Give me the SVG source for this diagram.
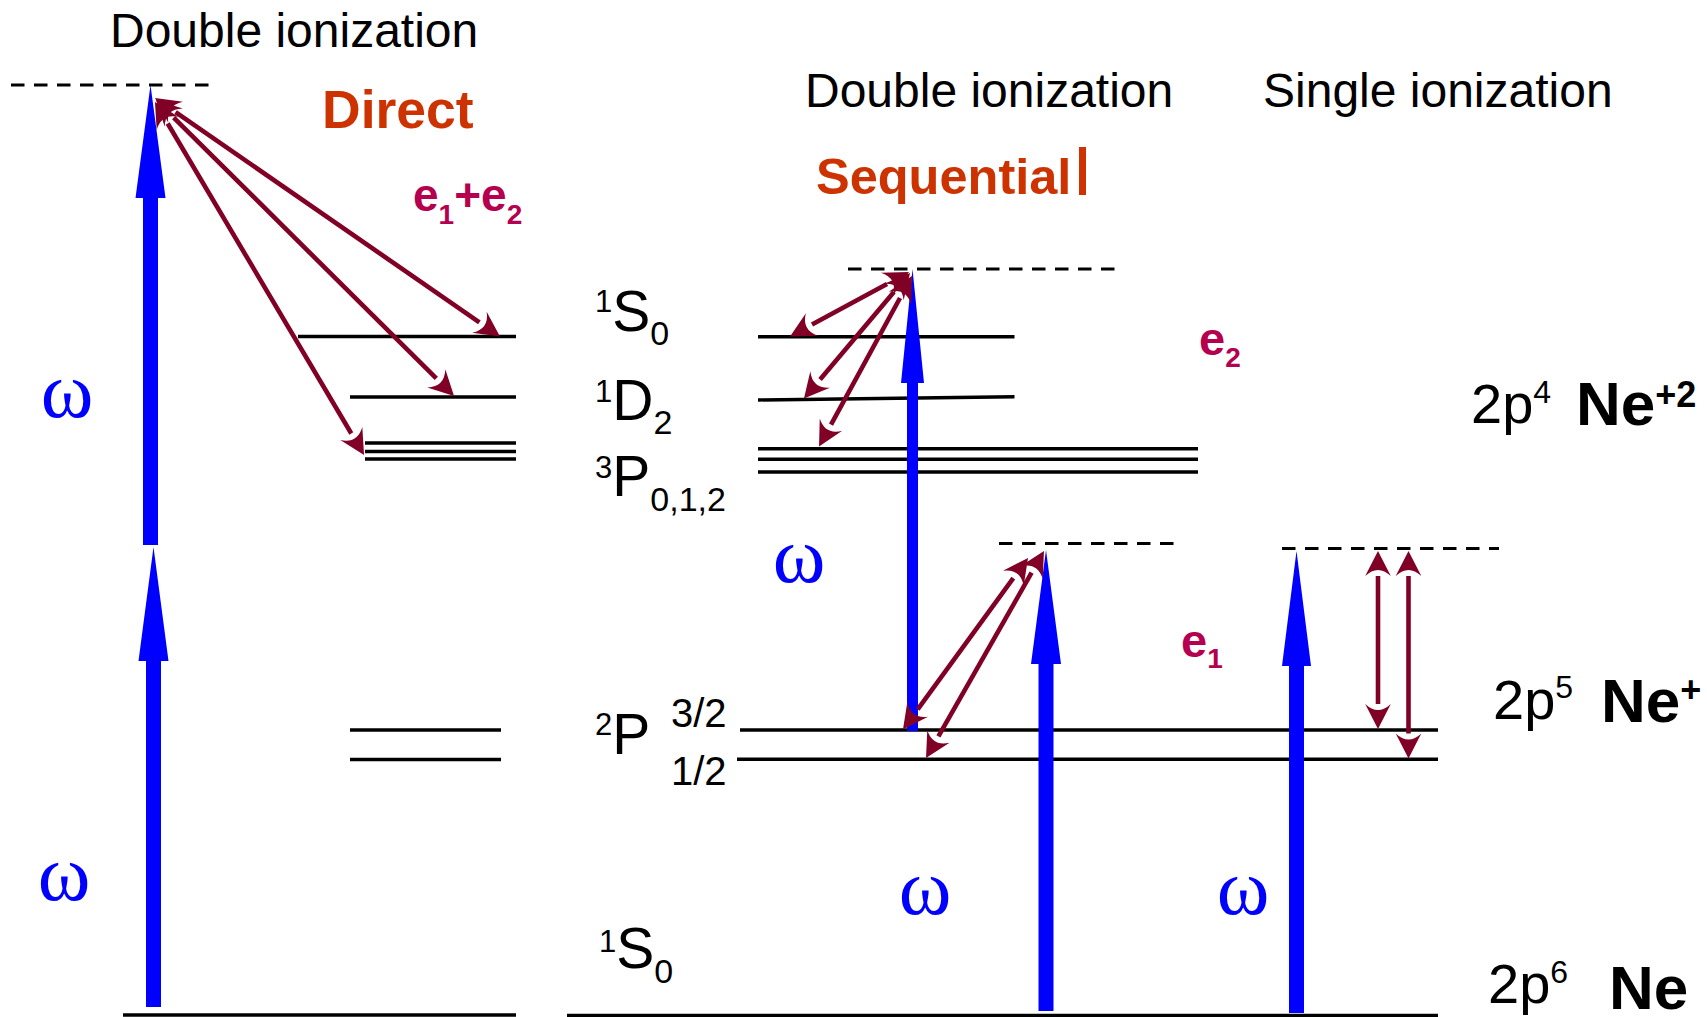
<svg xmlns="http://www.w3.org/2000/svg" width="1707" height="1017" viewBox="0 0 1707 1017">
<style>
.t{font-family:"Liberation Sans",Arial,sans-serif;fill:#000}
.b{font-weight:bold}
.hd{font-size:48px}
.org{fill:#cc3300;font-weight:bold}
.mag{fill:#b4004e;font-weight:bold}
.om{font-family:"Liberation Serif","Times New Roman",serif;fill:#0000ff;font-size:80px;text-anchor:middle}
.lv{stroke:#000;stroke-width:3.4;fill:none}
.dl{stroke:#000;stroke-width:3;fill:none;stroke-dasharray:13.5 9.5}
.blue{fill:#0000ff}
.ra{stroke:#800026;stroke-width:4.6;fill:none;marker-start:url(#ah);marker-end:url(#ah)}
.lab{font-family:"Liberation Sans",Arial,sans-serif;font-size:57px}
.sp{font-size:31px}
.sb{font-size:34px}
</style>
<defs>
<marker id="ah" markerUnits="userSpaceOnUse" orient="auto-start-reverse" refX="0" refY="0" markerWidth="30" markerHeight="30" overflow="visible">
<path d="M25,0 L0,-12.8 Q12,0 0,12.8 Z" fill="#800026"/>
</marker>
</defs>
<rect width="1707" height="1017" fill="#fff"/>

<g id="titles">
<text class="t hd" x="110" y="47">Double ionization</text>
<text class="t org" x="322" y="128" font-size="53.5">Direct</text>
<text class="t mag" x="413" y="211" font-size="46">e<tspan font-size="28" dy="13">1</tspan><tspan dy="-13">+e</tspan><tspan font-size="28" dy="13">2</tspan></text>
<text class="t hd" x="805" y="107">Double ionization</text>
<text class="t hd" x="1263" y="107">Single ionization</text>
<text class="t org" x="816" y="194" font-size="50.5">Sequential</text>
<rect x="1079" y="147" width="7" height="48" fill="#cc3300"/>
<text class="t mag" x="1199" y="355" font-size="47">e<tspan font-size="28" dy="12">2</tspan></text>
<text class="t mag" x="1181" y="657" font-size="47">e<tspan font-size="28" dy="11">1</tspan></text>
</g>

<g id="omegas">
<text class="om" x="67" y="417">ω</text>
<text class="om" x="64" y="900">ω</text>
<text class="om" x="799" y="582">ω</text>
<text class="om" x="925" y="914">ω</text>
<text class="om" x="1243" y="914">ω</text>
</g>

<g id="levels-direct">
<line class="dl" x1="11" y1="85" x2="212" y2="85"/>
<line class="lv" x1="298" y1="336.5" x2="516" y2="336.5"/>
<line class="lv" x1="350" y1="397" x2="516" y2="397"/>
<line class="lv" x1="365" y1="443" x2="516" y2="443"/>
<line class="lv" x1="365" y1="451.5" x2="516" y2="451.5"/>
<line class="lv" x1="365" y1="459" x2="516" y2="459"/>
<line class="lv" x1="350" y1="730" x2="501" y2="730"/>
<line class="lv" x1="350" y1="759.5" x2="501" y2="759.5"/>
<line class="lv" x1="123" y1="1015" x2="516" y2="1015" stroke-width="3"/>
</g>

<g id="levels-sequential">
<line class="dl" x1="848" y1="269" x2="1118" y2="269"/>
<line class="lv" x1="758" y1="336.7" x2="1014.5" y2="336.7"/>
<line class="lv" x1="758" y1="400" x2="1014.5" y2="396.7"/>
<line class="lv" x1="758" y1="448.7" x2="1198" y2="448.7"/>
<line class="lv" x1="758" y1="459.3" x2="1198" y2="459.3"/>
<line class="lv" x1="758" y1="472" x2="1198" y2="472"/>
<line class="dl" x1="999" y1="543.5" x2="1176" y2="543.5"/>
<line class="dl" x1="1282" y1="548.5" x2="1499" y2="548.5"/>
<line class="lv" x1="740" y1="730" x2="1438" y2="730"/>
<line class="lv" x1="737" y1="759.3" x2="1438" y2="759.3"/>
<line class="lv" x1="567" y1="1015.5" x2="1438" y2="1015.5" stroke-width="3"/>
</g>

<g id="state-labels">
<text class="lab" x="595" y="331"><tspan class="sp" dy="-19">1</tspan><tspan dy="19">S</tspan><tspan class="sb" dy="13.5">0</tspan></text>
<text class="lab" x="595" y="420"><tspan class="sp" dy="-18">1</tspan><tspan dy="18">D</tspan><tspan class="sb" dy="13.5">2</tspan></text>
<text class="lab" x="595" y="496"><tspan class="sp" dy="-18">3</tspan><tspan dy="18">P</tspan><tspan class="sb" dy="14.5">0,1,2</tspan></text>
<text class="lab" x="595" y="754"><tspan class="sp" dy="-19">2</tspan><tspan dy="19">P</tspan></text>
<text class="t" x="671" y="727" font-size="40">3/2</text>
<text class="t" x="671" y="785" font-size="40">1/2</text>
<text class="lab" x="599" y="968"><tspan class="sp" dy="-16.5">1</tspan><tspan dy="16.5">S</tspan><tspan class="sb" dy="15">0</tspan></text>
</g>

<g id="config-labels">
<text class="t" x="1471" y="422.5" font-size="56">2p<tspan font-size="32" dy="-20">4</tspan></text>
<text class="t b" x="1576" y="425" font-size="62">Ne<tspan font-size="36" dy="-18">+2</tspan></text>
<text class="t" x="1493" y="718.5" font-size="56">2p<tspan font-size="32" dy="-21">5</tspan></text>
<text class="t b" x="1601" y="721.5" font-size="62">Ne<tspan font-size="36" dy="-20">+</tspan></text>
<text class="t" x="1488" y="1002.5" font-size="56">2p<tspan font-size="32" dy="-20">6</tspan></text>
<text class="t b" x="1609" y="1009" font-size="62">Ne</text>
</g>

<g id="photon-arrows">
<path class="blue" d="M143,545 V198 H135.5 L150.5,85 L165.5,198 H158 V545 Z"/>
<path class="blue" d="M146,1007 V661 H138.5 L153.5,547 L168.5,661 H161 V1007 Z"/>
<path class="blue" d="M907,731 V383 H901 L912.5,269 L924,383 H918 V731 Z"/>
<path class="blue" d="M1038.5,1011 V664 H1031 L1046,550 L1061,664 H1053.5 V1011 Z"/>
<path class="blue" d="M1289,1013 V666 H1282 L1296.5,551 L1311,666 H1304 V1013 Z"/>
</g>

<g id="electron-connectors">
<line class="ra" x1="175.6" y1="112.2" x2="479.4" y2="322.3"/>
<line class="ra" x1="173.7" y1="117.6" x2="436.3" y2="378.4"/>
<line class="ra" x1="167.7" y1="123.5" x2="351.3" y2="433.5"/>
<line class="ra" x1="887.0" y1="283.9" x2="812.0" y2="324.6"/>
<line class="ra" x1="893.9" y1="292.1" x2="820.1" y2="379.4"/>
<line class="ra" x1="900.0" y1="298.0" x2="831.0" y2="424.6"/>
<line class="ra" x1="1013.3" y1="578.2" x2="917.7" y2="709.3"/>
<line class="ra" x1="1031.6" y1="572.7" x2="938.4" y2="736.3"/>
<line class="ra" x1="1378" y1="576" x2="1378" y2="704"/>
<line class="ra" x1="1408.5" y1="576" x2="1408.5" y2="733.5"/>
</g>
</svg>
